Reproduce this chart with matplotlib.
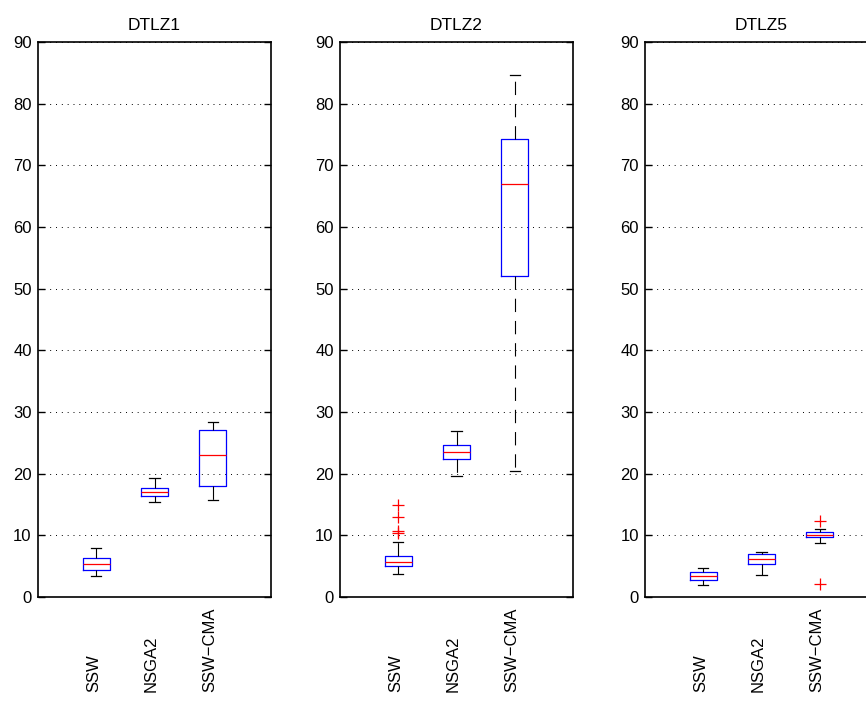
import matplotlib
matplotlib.use("Agg")
import matplotlib.pyplot as plt
import matplotlib.transforms as mtransforms

plt.rcParams['font.family'] = ['Liberation Sans', 'DejaVu Sans']

# --- data ---
problems = ['DTLZ1', 'DTLZ2', 'DTLZ5']
methods = ['SSW', 'NSGA2', 'SSW\u2212CMA']

# per problem: lists for SSW, NSGA2, SSW-CMA
whislo = [[3.35, 15.4, 15.7], [3.7, 19.6, 20.4], [2.0, 3.6, 8.7]]
q1 = [[4.3, 16.4, 18.0], [5.0, 22.3, 52.0], [2.7, 5.3, 9.7]]
med = [[5.35, 17.0, 23.0], [5.67, 23.5, 67.0], [3.35, 6.15, 10.0]]
q3 = [[6.4, 17.7, 27.1], [6.7, 24.7, 74.3], [4.0, 7.0, 10.6]]
whishi = [[8.0, 19.3, 28.4], [9.0, 27.0, 84.7], [4.65, 7.35, 11.0]]
fliers = [[[], [], []],
          [[15.0, 13.0, 10.7, 10.3], [], []],
          [[], [], [12.3, 2.05]]]

yticks = [0, 10, 20, 30, 40, 50, 60, 70, 80, 90]

fig = plt.figure(figsize=(8.66, 7.02), dpi=100)
lefts = [38, 340, 645]

for i, name in enumerate(problems):
    ax = fig.add_axes([lefts[i] / 866, 1 - 597 / 702, 233 / 866, 555 / 702])
    stats = []
    for j in range(3):
        stats.append({'whislo': whislo[i][j], 'q1': q1[i][j], 'med': med[i][j],
                      'q3': q3[i][j], 'whishi': whishi[i][j], 'fliers': fliers[i][j]})
    ax.bxp(stats, positions=[1, 2, 3], widths=0.47, capwidths=0.18,
           boxprops=dict(color='blue', linewidth=0.9),
           medianprops=dict(color='red', linewidth=0.9),
           whiskerprops=dict(color='black', linewidth=0.8, linestyle=(0, (12, 8))),
           capprops=dict(color='black', linewidth=0.9),
           flierprops=dict(marker='+', markeredgecolor='red', markersize=9,
                           markeredgewidth=0.9, linestyle='none'))
    ax.set_xlim(0, 4)
    ax.set_ylim(0, 90)
    ax.set_yticks(yticks)
    ax.set_xticks([])
    ax.yaxis.grid(True, color='black', linestyle=(0, (1, 5)), linewidth=0.7)
    ax.tick_params(axis='y', direction='in', length=5, width=1, right=True,
                   labelsize=12, pad=4.5)
    ax.set_title(name, fontsize=12.5, pad=9)
    for s in ax.spines.values():
        s.set_linewidth(1.2)

    trans = mtransforms.blended_transform_factory(ax.transData, fig.transFigure)
    for j, m in enumerate(methods):
        ax.text(j + 1 - 0.05, 1 - 692 / 702, m, rotation=90, ha='center', va='bottom',
                fontsize=12, transform=trans)

fig.savefig('out.png', dpi=100)
